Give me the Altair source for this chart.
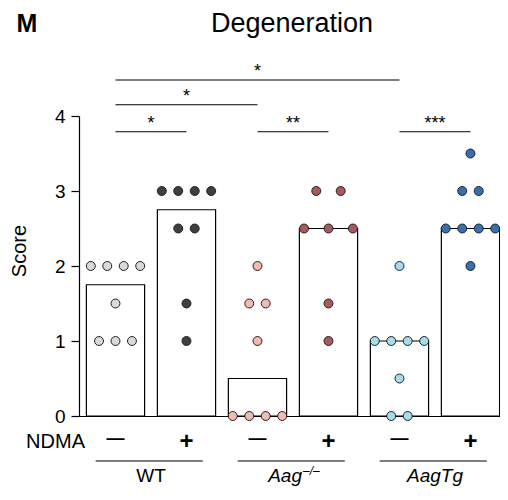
import altair as alt
import pandas as pd

# ---- data ----
conditions = ["WT −", "WT +", "Aag−/− −", "Aag−/− +", "AagTg −", "AagTg +"]
ndma_labels = ["−", "+", "−", "+", "−", "+"]
wt_minus = [2, 2, 2, 2, 1.5, 1, 1, 1]
wt_plus = [3, 3, 3, 3, 2.5, 2.5, 1.5, 1]
aag_minus = [2, 1.5, 1.5, 1, 0, 0, 0, 0]
aag_plus = [3, 3, 2.5, 2.5, 2.5, 1.5, 1]
tg_minus = [2, 1, 1, 1, 1, 0.5, 0, 0]
tg_plus = [3.5, 3, 3, 2.5, 2.5, 2.5, 2.5, 2]
scores = [wt_minus, wt_plus, aag_minus, aag_plus, tg_minus, tg_plus]

genotypes = ["WT", "Aag", "AagTg"]
genotype_sup = ["", "–/–", ""]
genotype_italic = [False, True, True]

comp_from = [0, 0, 0, 2, 4]
comp_to = [4, 2, 1, 3, 5]
comp_level = [4.48, 4.15, 3.79, 3.79, 3.79]
comp_label = ["*", "*", "*", "**", "***"]

# ---- styles ----
fills = ["#d9d9d9", "#3f3f3f", "#f4b9b1", "#a65a5c", "#a4dcec", "#3470b2"]
spread = [0.232, 0.232, 0.232, 0.344, 0.232, 0.232]
FONT = "Liberation Sans"
W, H = 421, 300
PAD = {"left": 71, "top": 108, "right": 0, "bottom": 70}

# dot table with horizontal spreading of equal values
rows = []
for i, vals in enumerate(scores):
    counts = {}
    for v in vals:
        counts[v] = counts.get(v, 0) + 1
    seen = {}
    for v in vals:
        k = seen.get(v, 0)
        seen[v] = k + 1
        n = counts[v]
        rows.append({"idx": i, "cond": conditions[i], "score": v,
                     "xpos": i + (k - (n - 1) / 2) * spread[i]})
pts = pd.DataFrame(rows)

ticks_df = pd.DataFrame({"idx": list(range(len(ndma_labels))), "lab": ndma_labels})
ticks_df["shown"] = ticks_df["lab"].map({"−": "—", "+": "+"})

comps = pd.DataFrame({"a": comp_from, "b": comp_to, "level": comp_level, "lab": comp_label})
comps["mid"] = (comps["a"] + comps["b"]) / 2

geno = pd.DataFrame({"g": list(range(len(genotypes))), "name": genotypes,
                     "sup": genotype_sup, "it": genotype_italic})
geno["x1"] = 2 * geno["g"] - 0.28
geno["x2"] = 2 * geno["g"] + 1.23
geno["xc"] = 2 * geno["g"] + 0.5

xscale = alt.Scale(domain=[-0.514, 5.416], nice=False, zero=False)
yscale = alt.Scale(domain=[0, 4], nice=False)

bars = alt.Chart(pts).transform_aggregate(
    med="median(score)", groupby=["idx"]
).transform_calculate(
    x1="datum.idx - 0.41", x2="datum.idx + 0.41"
).mark_bar(fill="white", stroke="black", strokeWidth=1.2).encode(
    x=alt.X("x1:Q", scale=xscale, axis=alt.Axis(
        labels=False, ticks=False, grid=False, domainColor="black",
        domainWidth=1.2, title=None)),
    x2="x2:Q",
    y=alt.Y("med:Q", scale=yscale, axis=alt.Axis(
        values=[0, 1, 2, 3, 4], format="d", tickSize=8, tickColor="black", tickWidth=1.2,
        domainColor="black", domainWidth=1.2, grid=False,
        labelFontSize=19, labelColor="black", labelPadding=6, labelFont=FONT,
        title=None)),
    y2=alt.datum(0),
)

dots = alt.Chart(pts).mark_point(filled=True, size=80, stroke="#222222",
                                 strokeWidth=1, opacity=1, shape="circle").encode(
    x=alt.X("xpos:Q", title=None),
    y=alt.Y("score:Q", title=None),
    fill=alt.Fill("cond:N", scale=alt.Scale(domain=conditions, range=fills), legend=None),
)

minus_lab = alt.Chart(ticks_df).transform_filter("datum.lab == '−'").mark_text(
    fontSize=18, fontWeight="bold", baseline="alphabetic", font=FONT, color="black").encode(
    x=alt.X("idx:Q", title=None), y=alt.value(328), text="shown:N")
plus_lab = alt.Chart(ticks_df).transform_filter("datum.lab == '+'").mark_text(
    fontSize=24, fontWeight="bold", baseline="alphabetic", font=FONT, color="black").encode(
    x=alt.X("idx:Q", title=None), y=alt.value(333), text="shown:N")

brk = alt.Chart(comps).mark_rule(color="black", strokeWidth=1.2).encode(
    x=alt.X("a:Q", title=None), x2="b:Q", y=alt.Y("level:Q", title=None))
stars = alt.Chart(comps).mark_text(fontSize=18, baseline="alphabetic", dy=-3,
                                   font=FONT, color="black").encode(
    x=alt.X("mid:Q", title=None), y=alt.Y("level:Q", title=None), text="lab:N")

GL_Y, LAB_Y = 345, 366
glines = alt.Chart(geno).mark_rule(color="black", strokeWidth=1.2).encode(
    x=alt.X("x1:Q", title=None), x2="x2:Q", y=alt.value(GL_Y))
glab_plain = alt.Chart(geno).transform_filter("!datum.it").mark_text(
    fontSize=19, baseline="alphabetic", font=FONT, color="black").encode(
    x=alt.X("xc:Q", title=None), y=alt.value(LAB_Y), text="name:N")
glab_it = alt.Chart(geno).transform_filter("datum.it && datum.sup == ''").mark_text(
    fontSize=19, baseline="alphabetic", font=FONT, fontStyle="italic", color="black").encode(
    x=alt.X("xc:Q", title=None), y=alt.value(LAB_Y), text="name:N")
glab_base = alt.Chart(geno).transform_filter("datum.sup != ''").mark_text(
    fontSize=19, baseline="alphabetic", align="right", dx=9, font=FONT,
    fontStyle="italic", color="black").encode(
    x=alt.X("xc:Q", title=None), y=alt.value(LAB_Y), text="name:N")
glab_sup = alt.Chart(geno).transform_filter("datum.sup != ''").mark_text(
    fontSize=12, baseline="alphabetic", align="left", dx=10, dy=-7, font=FONT,
    fontStyle="italic", color="black").encode(
    x=alt.X("xc:Q", title=None), y=alt.value(LAB_Y), text="sup:N")

ndma = alt.Chart(pd.DataFrame({"t": ["NDMA"]})).mark_text(
    align="right", baseline="alphabetic", fontSize=20, font=FONT, color="black").encode(
    x=alt.value(6), y=alt.value(332), text="t:N")
ytitle = alt.Chart(pd.DataFrame({"t": ["Score"]})).mark_text(
    align="center", baseline="middle", angle=270, fontSize=20, font=FONT,
    color="black").encode(x=alt.value(-59), y=alt.value(135), text="t:N")
title = alt.Chart(pd.DataFrame({"t": ["Degeneration"]})).mark_text(
    align="center", baseline="alphabetic", fontSize=27, font=FONT, color="black").encode(
    x=alt.value(213), y=alt.value(-84), text="t:N")
panel = alt.Chart(pd.DataFrame({"t": ["M"]})).mark_text(
    align="center", baseline="alphabetic", fontSize=25, fontWeight="bold",
    font=FONT, color="black").encode(
    x=alt.value(-52), y=alt.value(-84), text="t:N")

chart = alt.layer(bars, dots, minus_lab, plus_lab, brk, stars, glines, glab_plain,
                  glab_it, glab_base, glab_sup, ndma, ytitle, title, panel).properties(
    width=W, height=H,
    autosize=alt.AutoSizeParams(type="none"),
    padding=PAD,
).configure(font=FONT).configure_view(stroke=None)

chart.save("out.html", embed_options={"renderer": "svg", "actions": False})
